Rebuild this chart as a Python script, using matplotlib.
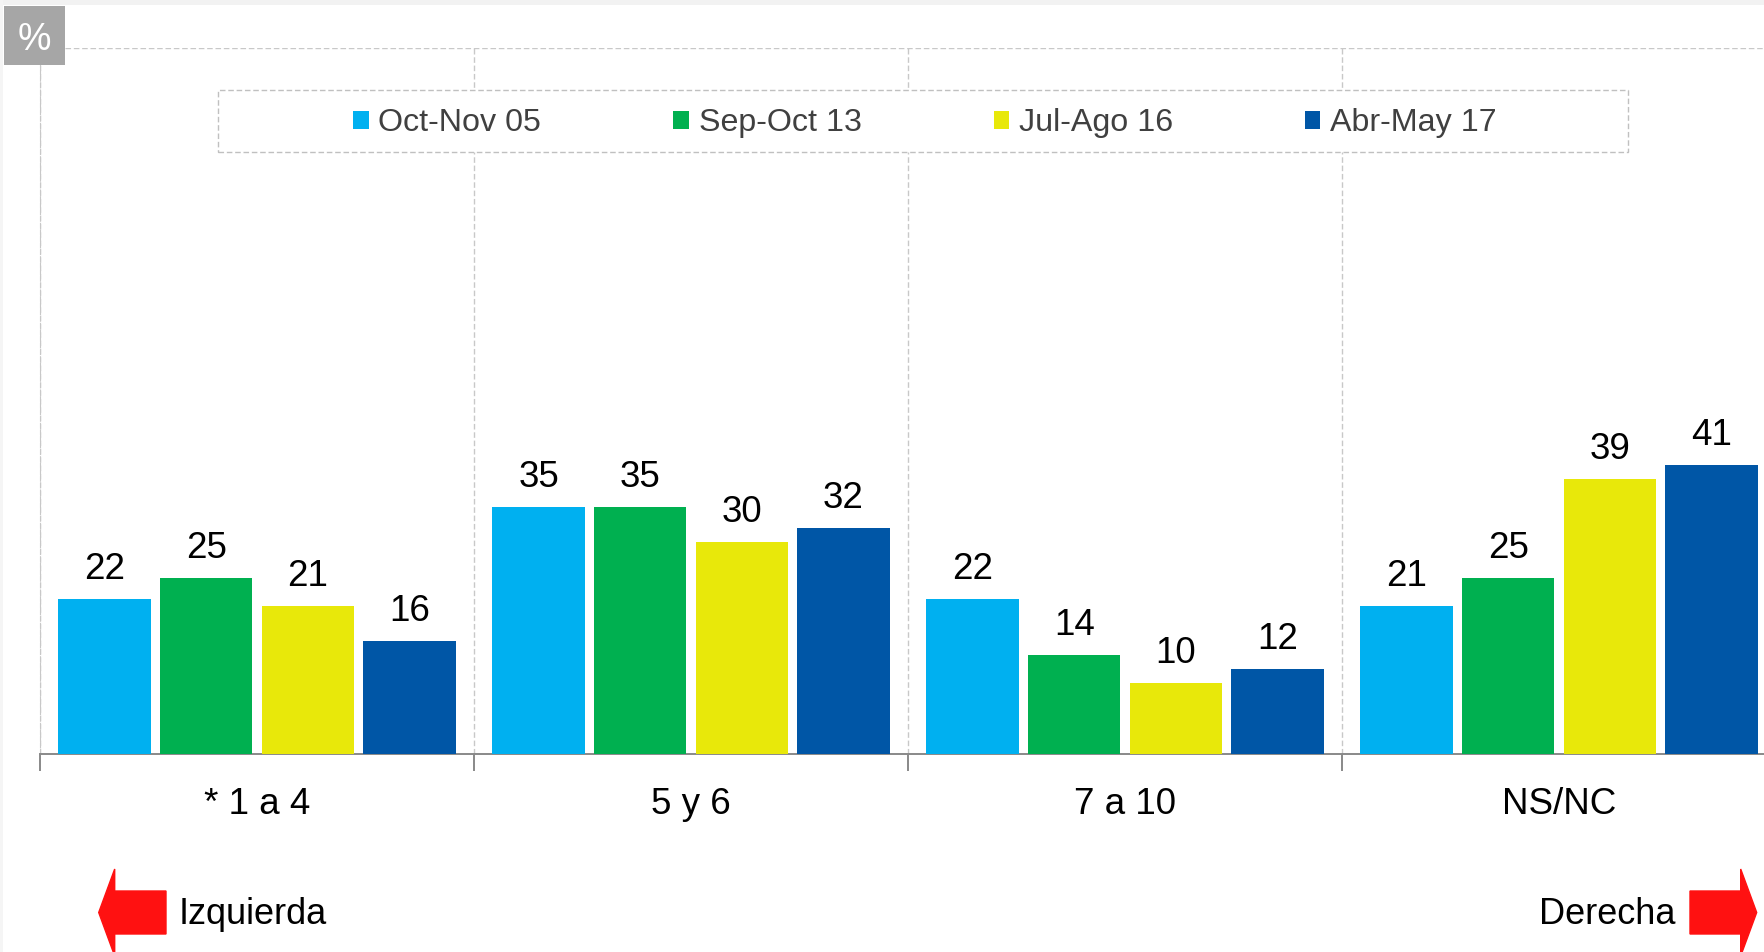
import numpy as np
import matplotlib
matplotlib.use('Agg')
import matplotlib.pyplot as plt
import matplotlib.patches as mpatches
from matplotlib.transforms import IdentityTransform

plt.rcParams['font.family'] = ['Liberation Sans', 'DejaVu Sans']

# data
categories = ['* 1 a 4', '5 y 6', '7 a 10', 'NS/NC']
series = ['Oct-Nov 05', 'Sep-Oct 13', 'Jul-Ago 16', 'Abr-May 17']
oct_nov_05 = [22, 35, 22, 21]
sep_oct_13 = [25, 35, 14, 25]
jul_ago_16 = [21, 30, 10, 39]
abr_may_17 = [16, 32, 12, 41]
values = [oct_nov_05, sep_oct_13, jul_ago_16, abr_may_17]
colors = ['#00b0f0', '#00b050', '#e8e80a', '#0056a6']

W, H = 1765, 952
fig = plt.figure(figsize=(W / 100, H / 100), dpi=100)
# axes runs a bit past the right edge, like the original slide
ax = fig.add_axes([40 / W, 198 / H, 1736 / W, 706 / H])

x = np.arange(len(categories))
pitch = 0.234
width = 0.213
handles = []
for i, (vals, name, col) in enumerate(zip(values, series, colors)):
    bars = ax.bar(x + (i - 1.5) * pitch, vals, width, color=col, label=name, zorder=3)
    handles.append(bars)
    for b, v in zip(bars, vals):
        ax.annotate(str(v), (b.get_x() + b.get_width() / 2, v), xytext=(0, 14.4),
                    textcoords='offset points', ha='center', va='baseline', fontsize=26.5)

ax.set_xlim(-0.5, 3.5)
ax.set_ylim(0, 100)
ax.set_xticks(x)
ax.set_xticklabels(categories, fontsize=26.5)
ax.set_xticks(np.arange(-0.5, 4, 1), minor=True)
ax.tick_params(axis='x', which='major', length=0, pad=23.5)
ax.tick_params(axis='x', which='minor', length=12, width=1.4, color='#898989')
ax.set_yticks([100])
ax.set_yticklabels([])
ax.tick_params(axis='y', length=0)

grid_kw = dict(linestyle=(0, (4, 2)), color='#c8c8c8', linewidth=1)
ax.yaxis.grid(True, **grid_kw)
ax.xaxis.grid(False, which='major')
ax.xaxis.grid(True, which='minor', **grid_kw)
ax.set_axisbelow(True)

for s in ['top', 'right']:
    ax.spines[s].set_visible(False)
ax.spines['left'].set_color('#c8c8c8')
ax.spines['left'].set_linestyle((0, (4, 2)))
ax.spines['bottom'].set_color('#898989')
ax.spines['bottom'].set_linewidth(1.4)

# legend inside a dashed white box
px = IdentityTransform()
fig.patches.append(mpatches.Rectangle((218, H - 152), 1410, 62, transform=px,
                                      facecolor='white', edgecolor='#c0c0c0',
                                      linestyle=(0, (4, 2)), linewidth=1, zorder=1))
fig.legend(handles=handles, labels=series, loc='center', bbox_to_anchor=(925 / W, 1 - 123 / H),
           ncol=4, frameon=False, fontsize=23.2, handlelength=0.48, handleheight=0.48,
           handletextpad=0.3, columnspacing=4.1, labelcolor='#404040')

# "%" badge
fig.patches.append(mpatches.Rectangle((4, H - 65), 61, 59, transform=px,
                                      facecolor='#a6a6a6', edgecolor='none', zorder=1))
fig.text(34 / W, 1 - 36 / H, '%', color='white', fontsize=27, ha='center', va='center_baseline')

# thin slide borders
fig.patches.append(mpatches.Rectangle((0, H - 5), W, 5, transform=px, facecolor='#f2f2f2',
                                      edgecolor='none', zorder=0))
fig.patches.append(mpatches.Rectangle((0, 0), 3, H, transform=px, facecolor='#f5f5f5',
                                      edgecolor='none', zorder=0))

# direction arrows
arrow_kw = dict(width=43, head_width=87, head_length=16, length_includes_head=True,
                color='#ff1111', transform=px)
fig.patches.append(mpatches.FancyArrow(166, H - 912.5, -67.3, 0, **arrow_kw))
fig.patches.append(mpatches.FancyArrow(1690, H - 912.5, 66.7, 0, **arrow_kw))
fig.text(179 / W, 28 / H, 'Izquierda', fontsize=26, ha='left', va='baseline')
fig.text(1676 / W, 28 / H, 'Derecha', fontsize=26, ha='right', va='baseline')

fig.savefig('out.png', dpi=100)
